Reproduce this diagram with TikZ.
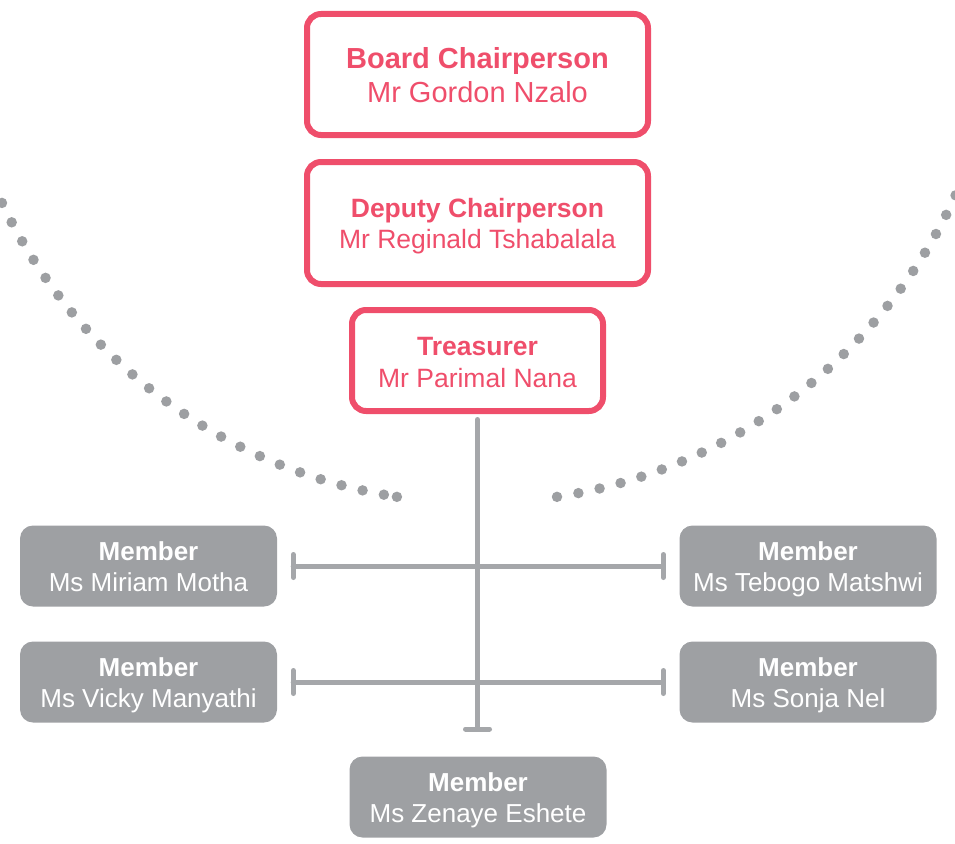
\documentclass[tikz,border=0pt]{standalone}
\usepackage{fontspec}
\setmainfont{Liberation Sans}
\definecolor{pinkred}{HTML}{EF4E6B}
\definecolor{boxgray}{HTML}{9EA0A3}
\definecolor{linegray}{HTML}{A5A7AA}
\definecolor{dotgray}{HTML}{9D9FA2}
\newcommand{\topstrut}[1]{\rule{0pt}{#1}}
\newcommand{\botstrut}[1]{\rule[-#1]{0pt}{#1}}
\begin{document}
\begin{tikzpicture}[x=1pt,y=-1pt,
  officer/.style={draw=pinkred, line width=6pt, rounded corners=14pt, text=pinkred, align=center, minimum width=341pt, inner sep=0pt},
  member/.style={fill=boxgray, rounded corners=13pt, text=white, align=center, minimum width=257pt, minimum height=81pt, inner sep=0pt, font=\fontsize{26}{31}\selectfont},
  link/.style={draw=linegray, line width=5pt, line cap=round},
  dots/.style={draw=dotgray, line width=10.5pt, line cap=round, dash pattern=on 0pt off 21.7pt}]
\useasboundingbox (0,0) rectangle (955,843);

\begin{scope}
\clip (0,0) rectangle (955,843);
\draw[dots] (477,-23) ++(100.2:526) arc[start angle=100.2,end angle=165,radius=526];
\fill[dotgray] (477,-23) ++(98.76:526) circle[radius=5.25];
\draw[dots] (477,-23) ++(81.25:526) arc[start angle=81.25,end angle=15,radius=526];
\end{scope}

\node[officer, minimum height=121pt, font=\fontsize{29}{34}\selectfont] (chair) at (477.5,74.5) {\topstrut{27.5pt}\textbf{Board Chairperson}\\Mr Gordon Nzalo\botstrut{6.5pt}};
\node[officer, minimum height=122pt, font=\fontsize{26.5}{31}\selectfont] (deputy) at (477.5,223) {\topstrut{25pt}\textbf{Deputy Chairperson}\\Mr Reginald Tshabalala\botstrut{6pt}};
\node[officer, minimum width=251pt, minimum height=101pt, font=\fontsize{26.5}{32}\selectfont] (treas) at (477.5,360.5) {\topstrut{27pt}\textbf{Treasurer}\\Mr Parimal Nana\botstrut{6pt}};

\node[member] (m1) at (148.5,566) {\topstrut{25.5pt}\textbf{Member}\\Ms Miriam Motha\botstrut{6pt}};
\node[member] (m2) at (808,566) {\topstrut{25.5pt}\textbf{Member}\\Ms Tebogo Matshwi\botstrut{6pt}};
\node[member] (m3) at (148.5,682) {\topstrut{25.5pt}\textbf{Member}\\Ms Vicky Manyathi\botstrut{6pt}};
\node[member] (m4) at (808,682) {\topstrut{25.5pt}\textbf{Member}\\Ms Sonja Nel\botstrut{6pt}};
\node[member] (m5) at (478,797) {\topstrut{25.5pt}\textbf{Member}\\Ms Zenaye Eshete\botstrut{6pt}};

\coordinate (trunkend) at (477.5,729);
\draw[link, shorten <=5.5pt] (treas.south) -- (trunkend);
\draw[link] ([xshift=-12pt]trunkend) -- ([xshift=12pt]trunkend);

\draw[link] ([xshift=16pt]m1.east) -- ([xshift=-16pt]m2.west);
\draw[link] ([xshift=16pt,yshift=11.5pt]m1.east) -- ([xshift=16pt,yshift=-11.5pt]m1.east);
\draw[link] ([xshift=-16pt,yshift=11.5pt]m2.west) -- ([xshift=-16pt,yshift=-11.5pt]m2.west);

\draw[link] ([xshift=16pt]m3.east) -- ([xshift=-16pt]m4.west);
\draw[link] ([xshift=16pt,yshift=11.5pt]m3.east) -- ([xshift=16pt,yshift=-11.5pt]m3.east);
\draw[link] ([xshift=-16pt,yshift=11.5pt]m4.west) -- ([xshift=-16pt,yshift=-11.5pt]m4.west);
\end{tikzpicture}
\end{document}
